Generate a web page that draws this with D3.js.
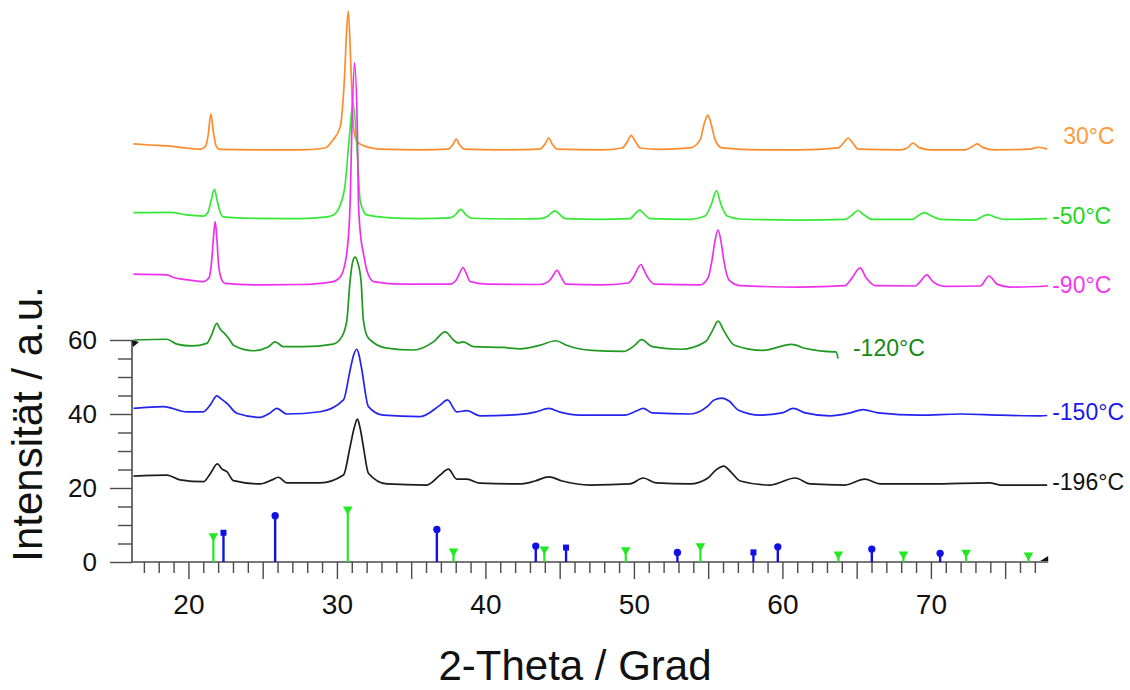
<!DOCTYPE html>
<html>
<head>
<meta charset="utf-8">
<script src="https://cdn.jsdelivr.net/npm/d3@7"></script>
<style>
  body { margin: 0; background: #fff; }
  svg { display: block; }
  text { font-family: "Liberation Sans", Arial, Helvetica, sans-serif; }
</style>
</head>
<body>
<svg id="chart" width="1130" height="690"></svg>
<script>
// ---- Diffraction patterns: [2-Theta (deg), intensity (a.u., stacked)] ----
const pattern30C = [
  [16.30,113.0],[17.42,112.7],[18.77,112.4],[19.78,111.9],[20.79,111.6],[21.12,112.2],[21.33,115.4],
  [21.51,121.1],[21.66,116.8],[21.87,112.4],[22.13,111.5],[24.83,111.4],[27.52,111.4],[29.21,111.9],
  [29.74,114.1],[30.22,117.6],[30.49,129.5],[30.67,144.6],[30.77,148.9],[30.94,133.8],[31.11,117.6],
  [31.38,113.5],[32.03,112.2],[32.91,111.6],[35.60,111.4],[37.49,111.6],[37.83,113.0],[38.03,114.3],
  [38.23,113.0],[38.57,111.6],[40.99,111.4],[43.68,111.6],[44.02,113.0],[44.26,114.6],[44.49,113.0],
  [44.83,111.6],[47.72,111.4],[49.21,111.9],[49.54,113.5],[49.81,115.3],[50.08,113.8],[50.42,111.9],
  [51.76,111.5],[53.78,111.9],[54.46,114.1],[54.73,118.4],[54.98,120.8],[55.20,118.4],[55.47,114.1],
  [55.94,111.9],[58.50,111.4],[61.19,111.4],[63.75,111.9],[64.16,113.5],[64.42,114.6],[64.69,113.5],
  [65.10,111.6],[67.93,111.4],[68.40,111.9],[68.80,113.2],[69.21,112.0],[69.95,111.4],[72.30,111.4],
  [72.77,112.2],[73.11,113.0],[73.52,112.0],[74.32,111.4],[76.68,111.6],[77.22,112.1],[77.83,111.6]
];
const patternM50C = [
  [16.30,94.4],[18.77,94.5],[19.89,93.8],[21.01,93.5],[21.33,94.6],[21.53,97.8],[21.75,100.7],
  [21.93,97.8],[22.13,94.6],[22.36,93.3],[24.38,92.9],[27.52,92.8],[29.21,93.2],[29.76,93.8],
  [30.22,96.5],[30.55,101.9],[30.82,114.1],[31.09,124.1],[31.36,111.4],[31.56,97.8],[31.76,95.1],
  [32.01,93.8],[33.36,93.1],[35.60,92.8],[37.62,93.0],[37.96,93.8],[38.34,95.3],[38.70,93.8],
  [39.10,92.9],[42.34,92.7],[43.68,92.8],[44.22,93.5],[44.42,94.3],[44.68,94.9],[44.96,94.1],
  [45.37,92.8],[47.72,92.6],[49.74,92.8],[50.08,94.1],[50.38,95.1],[50.68,94.1],[51.09,92.8],
  [53.78,92.6],[54.79,93.5],[55.20,96.5],[55.56,100.3],[55.87,96.5],[56.28,93.5],[57.15,92.7],
  [61.19,92.4],[64.22,92.6],[64.69,93.8],[65.08,95.0],[65.50,93.8],[66.04,92.6],[68.73,92.6],
  [69.14,93.6],[69.56,94.4],[70.01,93.6],[70.62,92.6],[72.98,92.4],[73.38,93.2],[73.85,93.9],
  [74.32,93.2],[75.00,92.6],[77.83,92.8]
];
const patternM90C = [
  [16.30,77.8],[18.55,77.6],[18.99,76.9],[20.11,76.2],[21.01,75.8],[21.39,76.8],[21.56,81.1],
  [21.70,88.4],[21.80,92.0],[21.90,88.4],[22.03,80.3],[22.25,76.2],[22.47,75.3],[24.38,74.9],
  [27.52,75.0],[29.76,75.8],[30.22,77.0],[30.55,80.8],[30.69,84.3],[30.89,97.0],[31.00,115.9],
  [31.18,134.9],[31.38,115.9],[31.45,97.0],[31.63,87.0],[31.78,83.5],[32.01,78.9],[32.46,75.8],
  [34.48,75.1],[37.62,75.1],[38.03,76.2],[38.30,78.4],[38.48,79.6],[38.70,78.1],[38.97,75.8],
  [40.09,75.1],[43.68,75.0],[44.22,75.7],[44.49,77.0],[44.82,78.8],[45.10,77.0],[45.43,75.1],
  [47.72,74.9],[49.61,75.4],[50.01,77.3],[50.28,79.5],[50.48,80.4],[50.68,78.9],[50.95,76.8],
  [51.42,75.1],[54.46,74.9],[54.99,76.8],[55.26,81.6],[55.47,87.0],[55.67,89.7],[55.87,86.5],
  [56.07,81.1],[56.41,76.2],[57.15,74.7],[61.19,74.3],[64.22,74.7],[64.69,76.8],[65.23,79.5],
  [65.64,76.8],[66.24,74.7],[68.94,74.6],[69.27,75.7],[69.72,77.6],[70.15,75.7],[70.96,74.5],
  [73.32,74.6],[73.92,77.3],[74.46,75.1],[75.33,74.3],[77.90,74.6]
];
const patternM120C = [
  [16.30,60.0],[18.55,60.2],[19.22,58.9],[20.23,58.4],[21.24,59.1],[21.53,61.1],[21.91,64.5],
  [22.13,63.0],[22.47,61.6],[22.74,60.3],[23.03,58.6],[24.38,57.1],[25.37,58.1],[25.84,59.5],
  [26.40,58.2],[27.74,58.2],[29.76,58.9],[30.33,60.9],[30.67,65.4],[30.89,76.2],[31.06,81.1],
  [31.23,82.4],[31.39,81.1],[31.63,75.7],[31.78,65.4],[32.12,60.5],[33.36,57.8],[35.15,57.3],
  [36.50,59.5],[37.29,62.2],[37.85,60.0],[38.16,59.2],[38.52,59.5],[39.19,58.2],[41.21,58.0],
  [42.34,57.6],[43.68,58.6],[44.74,59.8],[45.46,58.6],[47.15,57.2],[49.31,56.9],[50.01,58.4],
  [50.51,60.1],[51.23,58.2],[53.16,57.5],[54.84,59.6],[55.27,62.4],[55.67,65.1],[56.07,62.4],
  [56.77,58.6],[58.69,57.2],[60.61,58.8],[61.58,57.7],[63.50,56.8],[63.62,56.8],[63.74,55.0]
];
const patternM150C = [
  [16.30,41.5],[18.32,42.0],[19.89,40.6],[21.01,40.6],[21.46,42.4],[21.91,44.9],[22.20,44.1],
  [22.59,42.9],[23.26,40.2],[24.83,39.1],[25.50,40.3],[25.95,41.5],[26.63,40.0],[28.87,40.6],
  [30.44,43.8],[30.89,51.9],[31.12,55.9],[31.34,57.5],[31.49,55.9],[31.68,51.9],[32.12,42.0],
  [33.13,39.7],[35.60,39.3],[36.95,42.4],[37.44,43.8],[38.07,40.6],[38.75,40.9],[39.64,39.5],
  [42.34,39.9],[43.35,40.5],[44.27,41.5],[45.03,40.5],[46.37,39.7],[49.41,39.7],[50.15,40.8],
  [50.63,41.5],[51.23,40.3],[53.78,40.0],[54.99,42.2],[55.40,43.8],[55.93,44.3],[56.41,43.5],
  [57.02,41.1],[58.50,39.7],[59.98,40.3],[60.73,41.5],[61.53,40.3],[63.21,39.5],[64.56,40.3],
  [65.43,41.2],[66.44,40.3],[69.27,39.7],[71.96,40.0],[74.66,39.7],[77.35,39.5],[77.83,39.6]
];
const patternM196C = [
  [16.30,23.2],[18.55,23.5],[19.44,22.2],[21.01,21.7],[21.46,23.8],[21.95,26.5],[22.27,25.1],
  [22.59,24.4],[23.03,22.0],[24.83,21.1],[25.64,22.2],[26.06,22.9],[26.63,21.4],[28.87,21.4],
  [30.44,23.5],[30.89,31.2],[31.16,36.2],[31.38,38.6],[31.56,36.2],[31.78,31.2],[32.12,24.0],
  [33.36,21.1],[36.05,20.8],[36.95,23.5],[37.51,25.1],[38.07,22.4],[38.75,22.4],[39.64,21.3],
  [42.34,21.1],[43.35,21.9],[44.27,23.0],[45.17,21.9],[47.05,20.8],[49.74,21.1],[50.63,22.7],
  [51.49,21.4],[53.78,21.1],[54.99,22.7],[55.53,24.9],[56.05,25.9],[56.54,24.3],[57.15,21.9],
  [59.17,20.8],[60.86,22.7],[61.87,21.1],[64.22,20.8],[65.54,22.4],[66.58,21.1],[69.95,21.1],
  [73.97,21.4],[74.66,20.8],[77.83,20.8]
];

const seriesLabels = ["30°C", "-50°C", "-90°C", "-120°C", "-150°C", "-196°C"];

// ---- Reference reflections (stick patterns) ----
const refGreenPos = [21.68, 30.73, 37.85, 43.97, 49.45, 54.48, 63.77, 68.15, 72.37, 76.57];
const refGreenInt = [7.3, 14.5, 3.2, 3.7, 3.5, 4.6, 2.35, 2.35, 2.8, 2.1];
const refBluePos  = [22.36, 25.84, 36.73, 43.39, 45.43, 52.93, 58.05, 59.69, 66.02, 70.62];
const refBlueInt  = [7.9, 12.5, 8.8, 4.3, 3.9, 2.6, 2.6, 4.1, 3.5, 2.35];
const refBlueMark = ["square", "circle", "circle", "circle", "square", "circle", "square", "circle", "circle", "circle"];

// ---- Axis ticks ----
const xMajorTicks = [20, 25, 30, 35, 40, 45, 50, 55, 60, 65, 70, 75];
const xMinorTicks = d3.range(17, 78);
const xTickLabels = [20, 30, 40, 50, 60, 70];
const yMajorTicks = [0, 20, 40, 60];
const yMinorTicks = [0, 5, 10, 15, 20, 25, 30, 35, 40, 45, 50, 55, 60];

// ---- Styling ----
const seriesColors = ["#ff8b2b", "#33ea33", "#ee30ee", "#1f991f", "#2424ee", "#1c1c1c"];
const labelColors  = ["#ff9a3a", "#22d622", "#f23af2", "#128a12", "#1818ee", "#111111"];
const labelOffsets = [[16, -13], [5, -3], [4, -1], [15, -11], [5, -3], [5, -3]];
const patterns = [pattern30C, patternM50C, patternM90C, patternM120C, patternM150C, patternM196C];

const svg = d3.select("#chart");
const x = d3.scaleLinear().domain([16.2, 78]).range([132, 1049.7]);
const y = d3.scaleLinear().domain([0, 60]).range([562, 340]);
const axisColor = "#4a4a4a";

// X axis: minor and major ticks, then labels
const xAxisG = svg.append("g").attr("transform", `translate(0,${y(0)})`);
xAxisG.call(d3.axisBottom(x).tickValues(xMinorTicks.filter(v => !xMajorTicks.includes(v)))
  .tickSize(11).tickFormat(""));
xAxisG.append("g").call(d3.axisBottom(x).tickValues(xMajorTicks).tickSize(17).tickFormat(""));
xAxisG.append("g").call(d3.axisBottom(x).tickValues(xTickLabels).tickSize(0).tickPadding(32)
  .tickFormat(d3.format("d")));
xAxisG.selectAll(".domain").remove();
xAxisG.selectAll("line").attr("stroke", axisColor).attr("stroke-width", 1.4);
xAxisG.selectAll("text").attr("font-size", 28).attr("fill", "#111")
  .style("font-family", '"Liberation Sans", Arial, sans-serif');
xAxisG.append("line").attr("x1", x(16.2)).attr("x2", x(77.9)).attr("y1", 0).attr("y2", 0)
  .attr("stroke", axisColor).attr("stroke-width", 1.6);
xAxisG.append("path").attr("d", `M${x(77.9) - 8},-1 L${x(77.9)},-1 L${x(77.9)},-6 Z`).attr("fill", "#111");

// Y axis
const yAxisG = svg.append("g").attr("transform", `translate(${x(16.2)},0)`);
yAxisG.call(d3.axisLeft(y).tickValues(yMinorTicks.filter(v => !yMajorTicks.includes(v)))
  .tickSize(14).tickFormat(""));
yAxisG.append("g").call(d3.axisLeft(y).tickValues(yMajorTicks).tickSize(22).tickPadding(13)
  .tickFormat(d3.format("d")));
yAxisG.selectAll(".domain").remove();
yAxisG.selectAll("line").attr("stroke", axisColor).attr("stroke-width", 1.4);
yAxisG.selectAll("text").attr("font-size", 26).attr("fill", "#111")
  .style("font-family", '"Liberation Sans", Arial, sans-serif');
yAxisG.append("line").attr("x1", 0).attr("x2", 0).attr("y1", y(0)).attr("y2", y(60))
  .attr("stroke", axisColor).attr("stroke-width", 1.6);
yAxisG.append("path").attr("d", `M0,${y(60)} L7,${y(60) + 2} L1,${y(60) + 7} Z`).attr("fill", "#111");

// Reference sticks
const gRef = svg.append("g");
refGreenPos.forEach((p, i) => {
  gRef.append("line").attr("x1", x(p)).attr("x2", x(p)).attr("y1", y(0)).attr("y2", y(refGreenInt[i]))
    .attr("stroke", "#22e822").attr("stroke-width", 2.2);
  gRef.append("path").attr("d", d3.symbol(d3.symbolTriangle, 40)())
    .attr("transform", `translate(${x(p)},${y(refGreenInt[i]) + 1}) rotate(180)`)
    .attr("fill", "#22e822");
});
refBluePos.forEach((p, i) => {
  gRef.append("line").attr("x1", x(p)).attr("x2", x(p)).attr("y1", y(0)).attr("y2", y(refBlueInt[i]))
    .attr("stroke", "#1010e6").attr("stroke-width", 2.4);
  const sym = refBlueMark[i] === "square" ? d3.symbolSquare : d3.symbolCircle;
  gRef.append("path").attr("d", d3.symbol(sym, refBlueMark[i] === "square" ? 36 : 42)())
    .attr("transform", `translate(${x(p)},${y(refBlueInt[i])})`)
    .attr("fill", "#1010e6");
});

// Patterns
const line = d3.line().x(d => x(d[0])).y(d => y(d[1])).curve(d3.curveMonotoneX);
patterns.forEach((data, i) => {
  svg.append("path").datum(data).attr("d", line)
    .attr("fill", "none").attr("stroke", seriesColors[i]).attr("stroke-width", 1.7)
    .attr("stroke-linejoin", "round");
  const last = data[data.length - 1];
  svg.append("text")
    .attr("x", x(last[0]) + labelOffsets[i][0])
    .attr("y", y(last[1]) + labelOffsets[i][1])
    .attr("dominant-baseline", "central")
    .attr("font-size", 23).attr("fill", labelColors[i])
    .text(seriesLabels[i]);
});

// Axis titles
svg.append("text").attr("x", 575).attr("y", 680).attr("text-anchor", "middle")
  .attr("font-size", 42).attr("fill", "#111").text("2-Theta / Grad");
svg.append("text").attr("transform", "translate(42,424) rotate(-90)").attr("text-anchor", "middle")
  .attr("font-size", 42).attr("fill", "#111").text("Intensität / a.u.");
</script>
</body>
</html>
